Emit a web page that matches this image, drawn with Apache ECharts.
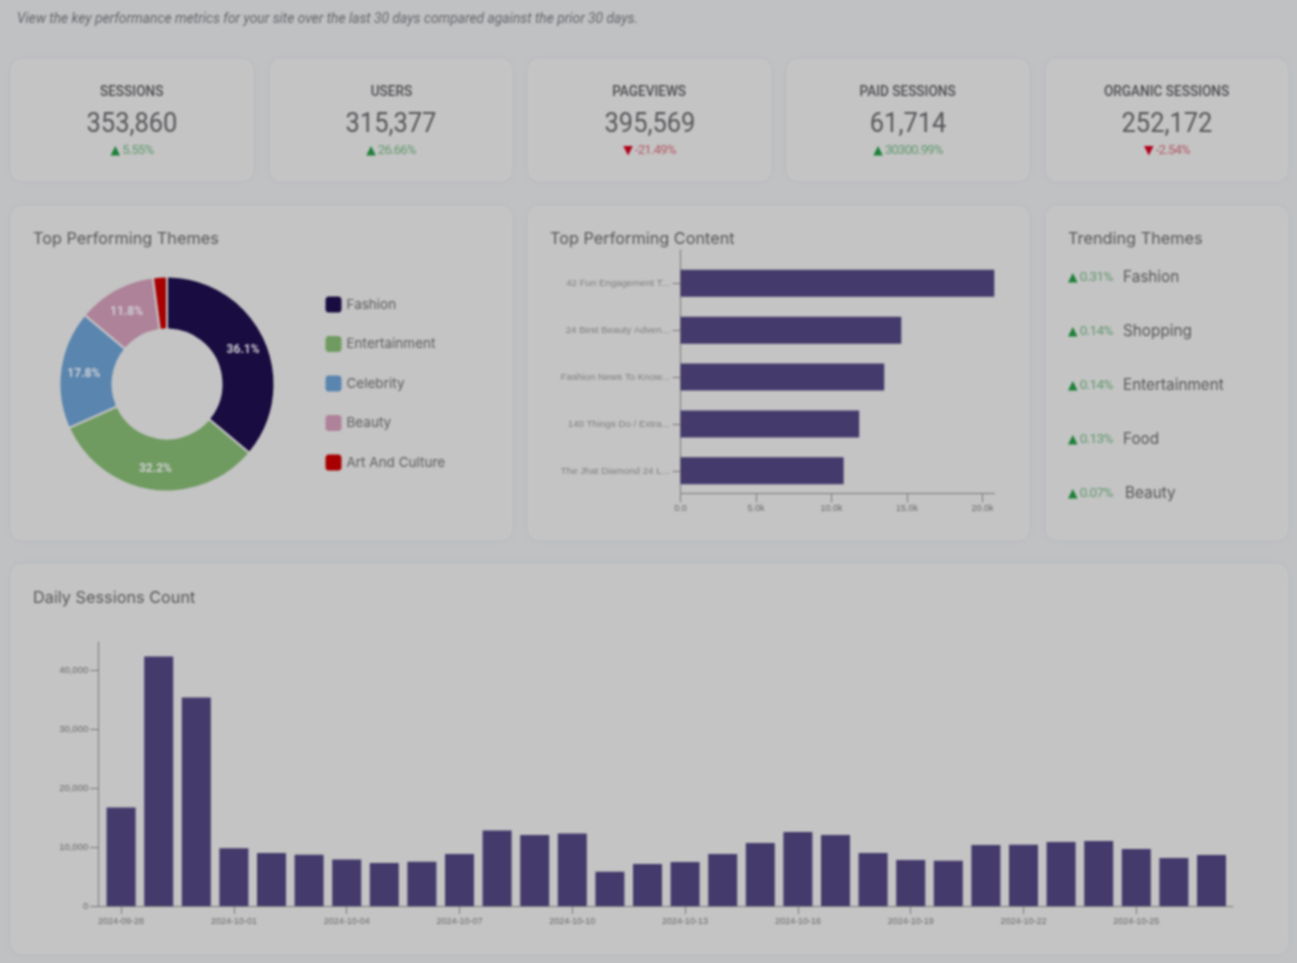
<!DOCTYPE html>
<html><head><meta charset="utf-8">
<script src="https://cdn.jsdelivr.net/npm/echarts@6/dist/echarts.min.js"></script>
<style>
html,body{margin:0;padding:0;width:1297px;height:963px;overflow:hidden;background:#c0c1c3;}
#wrap{position:absolute;left:0;top:0;width:1297px;height:963px;filter:blur(1.1px);font-family:Roboto,"Noto Sans",sans-serif;color:#4a4a4e;}
.card{position:absolute;box-sizing:border-box;background:#c4c4c4;border:1.5px solid #c7c7c8;border-radius:10px;box-shadow:0 0 4px #b4b5b8;}
.abs{position:absolute;white-space:nowrap;}
.sx{display:inline-block;}
.ttl{font-family:Inter,"Noto Sans",sans-serif;font-size:16.3px;color:#57575a;}
.kn{left:0;right:0;text-align:center;font-size:14px;font-weight:500;top:23px;color:#4c4c50;}
.kv{left:0;right:0;text-align:center;font-size:28px;font-weight:400;top:46px;color:#57575b;}
.kd{left:0;right:0;top:82px;display:flex;justify-content:center;align-items:center;font-size:13px;letter-spacing:-0.7px;}
.up{color:#62996f}.dn{color:#b25a66}
.tri{font-family:"DejaVu Sans",sans-serif;font-size:12.5px;letter-spacing:0;margin-right:2px;}
.ai-up{color:#1e8038}.ai-dn{color:#b00018}
#c{position:absolute;left:0;top:0;width:1297px;height:963px;}
</style></head><body>
<div id="wrap"></div>
<script>
const subtitle = "View the key performance metrics for your site over the last 30 days compared against the prior 30 days.";
const kpiNames = ["SESSIONS","USERS","PAGEVIEWS","PAID SESSIONS","ORGANIC SESSIONS"];
const kpiValues = ["353,860","315,377","395,569","61,714","252,172"];
const kpiDeltas = ["5.55%","26.66%","-21.49%","30300.99%","-2.54%"];
const themeNames = ["Fashion","Entertainment","Celebrity","Beauty","Art And Culture"];
const themeValues = [36.1,32.2,17.8,11.8,2.1];
const themeColors = ["#190c40","#6f9b60","#5a85af","#ae8299","#a80000"];
const contentTitles = ["42 Fun Engagement T...","24 Best Beauty Adven...","Fashion News To Know...","140 Things Do / Extra...","The Jhat Diamond 24 L..."];
const contentValues = [20780,14620,13490,11830,10800];
const trendNames = ["Fashion","Shopping","Entertainment","Food","Beauty"];
const trendDeltas = ["0.31%","0.14%","0.14%","0.13%","0.07%"];
const dayLabels = ["2024-09-28","2024-09-29","2024-09-30","2024-10-01","2024-10-02","2024-10-03","2024-10-04","2024-10-05","2024-10-06","2024-10-07","2024-10-08","2024-10-09","2024-10-10","2024-10-11","2024-10-12","2024-10-13","2024-10-14","2024-10-15","2024-10-16","2024-10-17","2024-10-18","2024-10-19","2024-10-20","2024-10-21","2024-10-22","2024-10-23","2024-10-24","2024-10-25","2024-10-26","2024-10-27"];
const dayValues = [16700,42350,35400,9780,8980,8700,7900,7290,7510,8810,12830,12030,12320,5820,7120,7460,8810,10680,12540,12030,8980,7800,7700,10340,10400,10850,11020,9660,8140,8640];

const wrap = document.getElementById('wrap');
function el(parent, cls, css, html){const d=document.createElement('div');d.className=cls;d.style.cssText=css||'';if(html!==undefined)d.innerHTML=html;parent.appendChild(d);return d;}
const sub=el(wrap,'abs','left:17px;top:9px;font-size:15px;font-style:italic;color:#66666a;transform-origin:left center;',subtitle);
sub.style.transform='scaleX('+(621/sub.getBoundingClientRect().width)+')';
const kpiX=[11,270,528,787,1046], kpiW=[242,242,243,242,242];
kpiNames.forEach((n,i)=>{
  const c=el(wrap,'card',`left:${kpiX[i]}px;top:59px;width:${kpiW[i]}px;height:122px;`);
  el(c,'abs kn','',`<span class="sx" style="transform:scaleX(.97)">${n}</span>`);
  el(c,'abs kv','',`<span class="sx" style="transform:scaleX(.91)">${kpiValues[i]}</span>`);
  const neg=kpiDeltas[i][0]==='-';
  el(c,'abs kd '+(neg?'dn':'up'),'',`<span class="tri ${neg?'ai-dn':'ai-up'}">${neg?'▼':'▲'}</span><span>${kpiDeltas[i]}</span>`);
});
[[11,206,501,334,'Top Performing Themes',21],[528,206,501,334,'Top Performing Content',21],[1046,206,242,334,'Trending Themes',21],[11,564,1277,390,'Daily Sessions Count',22]].forEach(a=>{
  const c=el(wrap,'card',`left:${a[0]}px;top:${a[1]}px;width:${a[2]}px;height:${a[3]}px;`);
  el(c,'abs ttl',`left:21px;top:${a[5]}px;`,a[4]);
});
trendNames.forEach((n,i)=>{
  const y=267+54*i;
  el(wrap,'abs',`left:1068px;top:${y+1}px;font-size:13.5px;letter-spacing:-0.6px;color:#62996f;display:flex;align-items:center;`,`<span class="tri ai-up">▲</span><span>${trendDeltas[i]}</span>`);
  el(wrap,'abs',`left:${i==4?1125:1123}px;top:${y}px;font-family:Inter,'Noto Sans',sans-serif;font-size:15.3px;color:#57575a;`,n);
});
const cdiv=el(wrap,'','');cdiv.id='c';

const chart=echarts.init(cdiv,null,{renderer:'canvas'});
const axisC='#77777b', labC='#69696d';
const fmtK=v=>v===0?'0.0':(v/1000).toFixed(1)+'k';
chart.setOption({
  animation:false,
  backgroundColor:'transparent',
  textStyle:{fontFamily:'"Liberation Sans",sans-serif'},
  legend:{orient:'vertical',left:323.5,top:294.5,padding:0,itemWidth:18,itemHeight:18,itemGap:19.5,icon:'roundRect',
    data:themeNames,textStyle:{fontFamily:'Inter,"Noto Sans",sans-serif',fontSize:13.5,color:'#5d5d60',padding:[0,0,0,-1]},selectedMode:false},
  grid:[
    {left:680.6,top:259.9,width:313.7,height:234.4},
    {left:680.6,top:250,width:313.7,height:243.3},
    {left:102.3,top:642,width:1128,height:264},
    {left:98.2,top:642,width:1134.8,height:264}
  ],
  xAxis:[
    {gridIndex:0,type:'value',min:0,max:20780,interval:5000,axisLine:{show:false},axisTick:{show:true,length:8,lineStyle:{color:axisC}},splitLine:{show:false},
      axisLabel:{fontSize:9,color:labC,margin:10,formatter:fmtK,showMaxLabel:false}},
    {gridIndex:1,type:'value',min:0,max:1,axisLine:{show:true,onZero:false,lineStyle:{color:axisC}},axisTick:{show:false},axisLabel:{show:false},splitLine:{show:false}},
    {gridIndex:2,type:'category',data:dayLabels,axisLine:{show:false},
      axisTick:{show:true,alignWithLabel:true,interval:2,length:8,lineStyle:{color:axisC}},
      axisLabel:{interval:2,fontSize:9,color:labC,margin:11,hideOverlap:false}},
    {gridIndex:3,type:'value',min:0,max:1,axisLine:{show:true,onZero:false,lineStyle:{color:axisC}},axisTick:{show:false},axisLabel:{show:false},splitLine:{show:false}}
  ],
  yAxis:[
    {gridIndex:0,type:'category',inverse:true,data:contentTitles,axisLine:{show:false},
      axisTick:{show:true,length:8,alignWithLabel:true,lineStyle:{color:axisC}},
      axisLabel:{fontSize:9.7,color:'#7f7f83',margin:11}},
    {gridIndex:1,type:'value',min:0,max:1,axisLine:{show:true,onZero:false,lineStyle:{color:axisC}},axisTick:{show:false},axisLabel:{show:false},splitLine:{show:false}},
    {gridIndex:2,type:'value',min:0,max:44800,show:false,splitLine:{show:false}},
    {gridIndex:3,type:'value',min:0,max:44800,interval:10000,axisLine:{show:true,onZero:false,lineStyle:{color:axisC}},
      axisTick:{show:true,length:8,lineStyle:{color:axisC}},splitLine:{show:false},
      axisLabel:{fontSize:9.5,color:labC,margin:10,showMaxLabel:false,formatter:v=>v.toLocaleString('en-US')}}
  ],
  series:[
    {type:'pie',center:[167,384],radius:[54.5,107.5],startAngle:90,clockwise:true,
      data:themeNames.map((n,i)=>({name:n,value:themeValues[i],itemStyle:{color:themeColors[i]}})),
      itemStyle:{borderColor:'#c4c4c4',borderWidth:2,borderRadius:2},
      label:{position:'inside',formatter:p=>p.value>=5?p.value.toFixed(1)+'%':'',fontSize:12,fontWeight:'bold',color:'#cfcfd4',fontFamily:'Roboto,sans-serif',offset:[0,2]},
      labelLine:{show:false},emphasis:{disabled:true}},
    {type:'bar',xAxisIndex:0,yAxisIndex:0,data:contentValues,barWidth:27,itemStyle:{color:'#443a6b'}},
    {type:'bar',xAxisIndex:2,yAxisIndex:2,data:dayValues,barWidth:29,itemStyle:{color:'#443a6b'}}
  ]
});
</script>
</body></html>
